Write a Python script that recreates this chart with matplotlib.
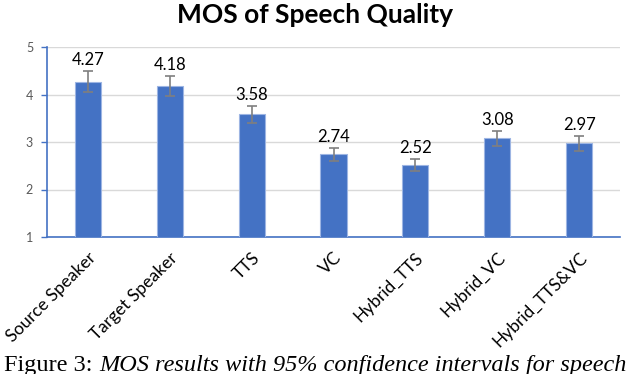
import matplotlib
matplotlib.use("Agg")
import matplotlib.pyplot as plt
import numpy as np

categories = ["Source Speaker", "Target Speaker", "TTS", "VC", "Hybrid_TTS", "Hybrid_VC", "Hybrid_TTS&VC"]
mos = [4.27, 4.18, 3.58, 2.74, 2.52, 3.08, 2.97]
ci = [0.22, 0.22, 0.18, 0.14, 0.13, 0.16, 0.15]
yticks = [1, 2, 3, 4, 5]

fig = plt.figure(figsize=(6.3, 3.74), dpi=100)
ax = fig.add_axes([47/630, 1-237/374, (620-47)/630, (237-47)/374])

x = np.arange(len(categories))
ax.bar(x, mos, width=0.32, color="#4472C4", edgecolor="#9DB5E3", linewidth=0.8, zorder=3)
ax.errorbar(x, mos, yerr=ci, fmt="none", ecolor="#7F7F7F", elinewidth=1.2, capsize=3.5, capthick=1.2, zorder=4)
for xi, v, c in zip(x, mos, ci):
    ax.text(xi, v + c + 0.06, f"{v:.2f}", ha="center", va="bottom", fontsize=12, family="Lato", color="black")

ax.set_xlim(-0.5, len(categories) - 0.5)
ax.set_ylim(1, 5)
ax.set_yticks(yticks)
ax.set_yticklabels([str(t) for t in yticks], fontsize=9, family="Lato", color="#595959")
ax.yaxis.grid(True, color="#D9D9D9", linewidth=1, zorder=0)
ax.set_xticks(x)
ax.set_xticklabels(categories, rotation=45, ha="right", rotation_mode="anchor", fontsize=12.5, family="Lato", color="black")
ax.tick_params(axis="x", length=0, pad=9)
ax.tick_params(axis="y", length=4, color="#4472C4", width=1, pad=6)
for s in ["top", "right"]:
    ax.spines[s].set_visible(False)
for s in ["left", "bottom"]:
    ax.spines[s].set_color("#4472C4")
    ax.spines[s].set_linewidth(1.2)

fig.text(0.5, 1-3/374, "MOS of Speech Quality", ha="center", va="top", fontsize=19, fontweight="bold", family="Lato")

cap_y = 1 - 371/374
t1 = fig.text(4/630, cap_y, "Figure 3: ", ha="left", va="baseline", fontsize=17.5, family="Liberation Serif")
fig.canvas.draw()
bb = t1.get_window_extent(renderer=fig.canvas.get_renderer())
fig.text(bb.x1/fig.bbox.width + 1/630, cap_y, "MOS results with 95% confidence intervals for speech", ha="left", va="baseline",
         fontsize=17.5, style="italic", family="Liberation Serif")

fig.savefig("out.png", dpi=100)
